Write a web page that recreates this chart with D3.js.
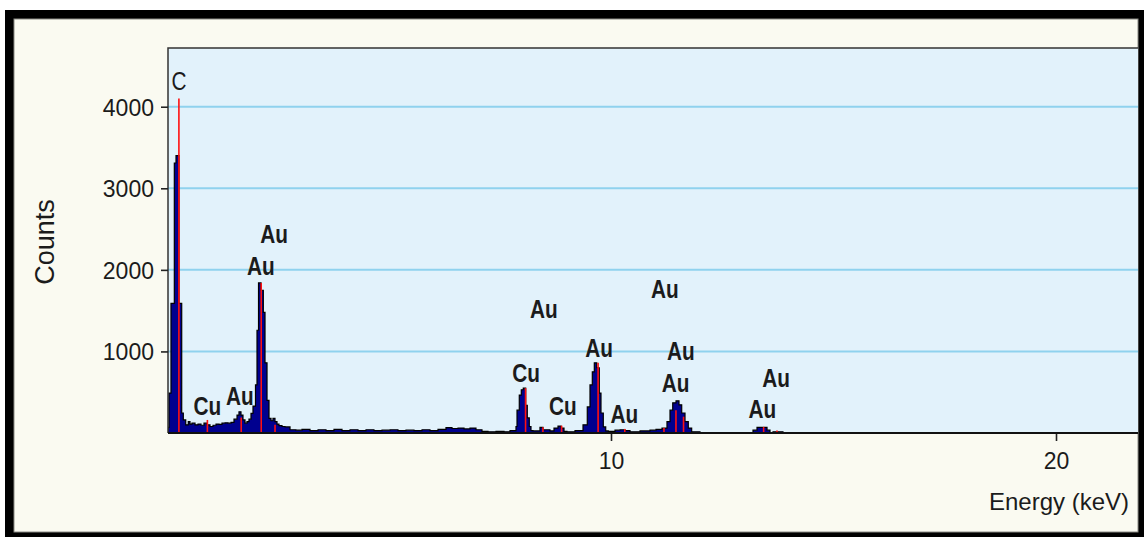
<!DOCTYPE html>
<html>
<head>
<meta charset="utf-8">
<script src="https://cdn.jsdelivr.net/npm/d3@7"></script>
<style>
  body { margin: 0; background: #ffffff; }
  svg { display: block; }
</style>
</head>
<body>
<svg class="eds_svg" width="1144" height="537"></svg>
<script>
/* Spectrum: energy (keV) of each bin start and its counts */
let energy = [0.045, 0.067, 0.112, 0.187, 0.225, 0.292, 0.353, 0.389, 0.443, 0.501,
    0.539, 0.584, 0.652, 0.719, 0.787, 0.854, 0.921, 0.989, 1.056, 1.124,
    1.191, 1.258, 1.326, 1.393, 1.461, 1.528, 1.596, 1.640, 1.685, 1.730,
    1.775, 1.820, 1.865, 1.910, 1.955, 2.011, 2.045, 2.079, 2.135, 2.187,
    2.225, 2.270, 2.315, 2.360, 2.404, 2.449, 2.494, 2.539, 2.607, 2.674,
    2.787, 2.921, 3.056, 3.236, 3.416, 3.596, 3.775, 3.955, 4.135, 4.315,
    4.494, 4.674, 4.854, 5.034, 5.213, 5.393, 5.573, 5.753, 5.933, 6.112,
    6.292, 6.427, 6.562, 6.697, 6.831, 6.966, 7.101, 7.236, 7.416, 7.596,
    7.730, 7.865, 7.888, 7.939, 7.984, 8.029, 8.083, 8.119, 8.164, 8.202,
    8.247, 8.404, 8.472, 8.539, 8.629, 8.719, 8.809, 8.876, 8.944, 9.011,
    9.191, 9.371, 9.467, 9.528, 9.580, 9.625, 9.679, 9.737, 9.775, 9.827,
    9.881, 9.939, 10.090, 10.202, 10.315, 10.427, 10.652, 10.876, 11.011, 11.146,
    11.258, 11.326, 11.387, 11.461, 11.528, 11.589, 11.663, 11.737, 11.813, 12.000,
    13.191, 13.281, 13.506, 13.573, 13.640, 13.730, 13.865];
let counts = [70, 490, 1590, 3310, 3400, 1590, 245, 160, 100, 140,
    110, 120, 100, 110, 95, 120, 100, 80, 95, 110,
    105, 120, 125, 120, 130, 170, 220, 260, 220, 160,
    120, 140, 170, 240, 330, 590, 1260, 1840, 1750, 1480,
    860, 400, 180, 150, 180, 140, 110, 90, 80, 75,
    40, 35, 45, 30, 40, 30, 45, 30, 40, 30,
    40, 30, 35, 40, 30, 35, 30, 40, 30, 45,
    65, 55, 60, 50, 60, 40, 20, 15, 20, 15,
    30, 80, 280, 465, 530, 550, 340, 185, 80, 30,
    25, 70, 40, 40, 25, 60, 85, 60, 20, 15,
    30, 100, 320, 590, 750, 860, 800, 490, 245, 75,
    25, 20, 35, 40, 30, 15, 25, 35, 45, 60,
    140, 280, 370, 395, 345, 245, 140, 60, 15, 0,
    35, 70, 35, 0, 15, 15, 0];

/* Element marker lines (red) */
let line_energy = [0.29, 0.93, 1.69, 2.14, 2.45, 8.08, 8.47, 8.89, 9.71, 10.31, 11.19, 11.46, 11.63, 13.43, 13.73];
let line_counts = [4100, 160, 190, 1840, 100, 550, 70, 90, 860, 50, 60, 280, 200, 75, 30];

/* Peak labels: text, energy of label centre, counts at label baseline */
let label_text = ["C", "Cu", "Au", "Au", "Au", "Cu", "Cu", "Au", "Au", "Au", "Au", "Au", "Au", "Au", "Au"];
let label_energy = [0.29, 0.93, 1.66, 2.13, 2.43, 8.09, 8.92, 8.49, 9.73, 10.30, 11.21, 11.45, 11.57, 13.40, 13.71];
let label_counts = [4200, 220, 345, 1940, 2330, 625, 220, 1410, 930, 122, 1650, 500, 895, 185, 565];

/* Axis ticks */
let y_ticks = [1000, 2000, 3000, 4000];
let x_ticks = [10, 20];

let svg = d3.select("svg.eds_svg");
let width = +svg.attr("width");
let height = +svg.attr("height");

let plot = {left: 168, top: 48, right: 1138, bottom: 433};
let axis_font = "'Liberation Sans', Arial, sans-serif";

let x = d3.scaleLinear().domain([0, 22]).range([166, 166 + 22 * 44.5]);
let y = d3.scaleLinear().domain([0, 4720]).range([plot.bottom, plot.top]);

// outer frame
svg.append("rect").attr("x", 5).attr("y", 10).attr("width", width - 5).attr("height", height - 10).attr("fill", "#000");
svg.append("rect").attr("x", 14).attr("y", 19).attr("width", 1124).attr("height", 513)
    .attr("fill", "#fafaf1").attr("stroke", "#8a8a84").attr("stroke-width", 1);

svg.append("clipPath").attr("id", "plot_clip")
    .append("rect").attr("x", plot.left).attr("y", plot.top - 60)
    .attr("width", plot.right - plot.left).attr("height", plot.bottom - plot.top + 60);

let g = svg.append("g").attr("clip-path", "url(#plot_clip)");

g.append("rect").attr("x", plot.left).attr("y", plot.top)
    .attr("width", plot.right - plot.left).attr("height", plot.bottom - plot.top)
    .attr("fill", "#e2f2fb");

// gridlines
g.selectAll("line.grid").data(y_ticks).enter().append("line")
    .attr("class", "grid")
    .attr("x1", plot.left).attr("x2", plot.right)
    .attr("y1", d => y(d)).attr("y2", d => y(d))
    .attr("stroke", "#8fd2ee").attr("stroke-width", 2);

// spectrum
let spectrum = energy.map(function (e, i) { return {e: e, c: counts[i]}; });
let area = d3.area().curve(d3.curveStepAfter)
    .x(d => x(d.e)).y0(y(0)).y1(d => y(d.c));
g.append("path").datum(spectrum)
    .attr("d", area)
    .attr("fill", "#00008f")
    .attr("stroke", "#000")
    .attr("stroke-width", 1.2)
    .attr("stroke-linejoin", "miter");

// element marker lines
g.selectAll("line.marker").data(line_energy).enter().append("line")
    .attr("class", "marker")
    .attr("x1", d => x(d)).attr("x2", d => x(d))
    .attr("y1", y(0)).attr("y2", (d, i) => y(line_counts[i]))
    .attr("stroke", "#ff1010").attr("stroke-width", 1.6);

// plot frame top/left
svg.append("path")
    .attr("d", "M" + plot.left + "," + plot.bottom + "V" + plot.top + "H" + plot.right)
    .attr("fill", "none").attr("stroke", "#333").attr("stroke-width", 1.5);

// labels (narrow bold face, squeezed horizontally)
svg.selectAll("text.peak").data(label_text).enter().append("text")
    .attr("class", "peak")
    .attr("transform", (d, i) => "translate(" + x(label_energy[i]) + "," + y(label_counts[i]) + ") scale(0.8,1)")
    .attr("text-anchor", "middle")
    .attr("font-family", axis_font)
    .attr("font-weight", (d, i) => i === 0 ? "normal" : "bold")
    .attr("font-size", "26px")
    .attr("fill", "#1b1b1b")
    .text(d => d);

// baseline axis
svg.append("line")
    .attr("x1", plot.left).attr("x2", plot.right)
    .attr("y1", plot.bottom).attr("y2", plot.bottom)
    .attr("stroke", "#111").attr("stroke-width", 2.2);

let x_axis = svg.append("g")
    .attr("transform", "translate(0," + (plot.bottom + 1) + ")")
    .call(d3.axisBottom(x).tickValues(x_ticks).tickSize(7).tickSizeOuter(0).tickPadding(12));
let y_axis = svg.append("g")
    .attr("transform", "translate(" + plot.left + ",0)")
    .call(d3.axisLeft(y).tickValues(y_ticks).tickFormat(d3.format("d")).tickSize(7).tickSizeOuter(0).tickPadding(7));

[x_axis, y_axis].forEach(function (a) {
    a.select(".domain").remove();
    a.selectAll(".tick line").attr("stroke", "#222").attr("stroke-width", 1.6);
    a.selectAll(".tick text")
        .attr("font-family", axis_font)
        .attr("font-size", "23px")
        .attr("fill", "#1b1b1b");
});
y_axis.selectAll(".tick text").attr("dy", "0.36em");

// axis titles
svg.append("text")
    .attr("x", 1129).attr("y", 510)
    .attr("text-anchor", "end")
    .attr("font-family", axis_font)
    .attr("font-size", "24px")
    .attr("fill", "#1b1b1b")
    .text("Energy (keV)");

svg.append("text")
    .attr("transform", "translate(54,242) rotate(-90)")
    .attr("text-anchor", "middle")
    .attr("font-family", axis_font)
    .attr("font-size", "27px")
    .attr("fill", "#1b1b1b")
    .text("Counts");
</script>
</body>
</html>
